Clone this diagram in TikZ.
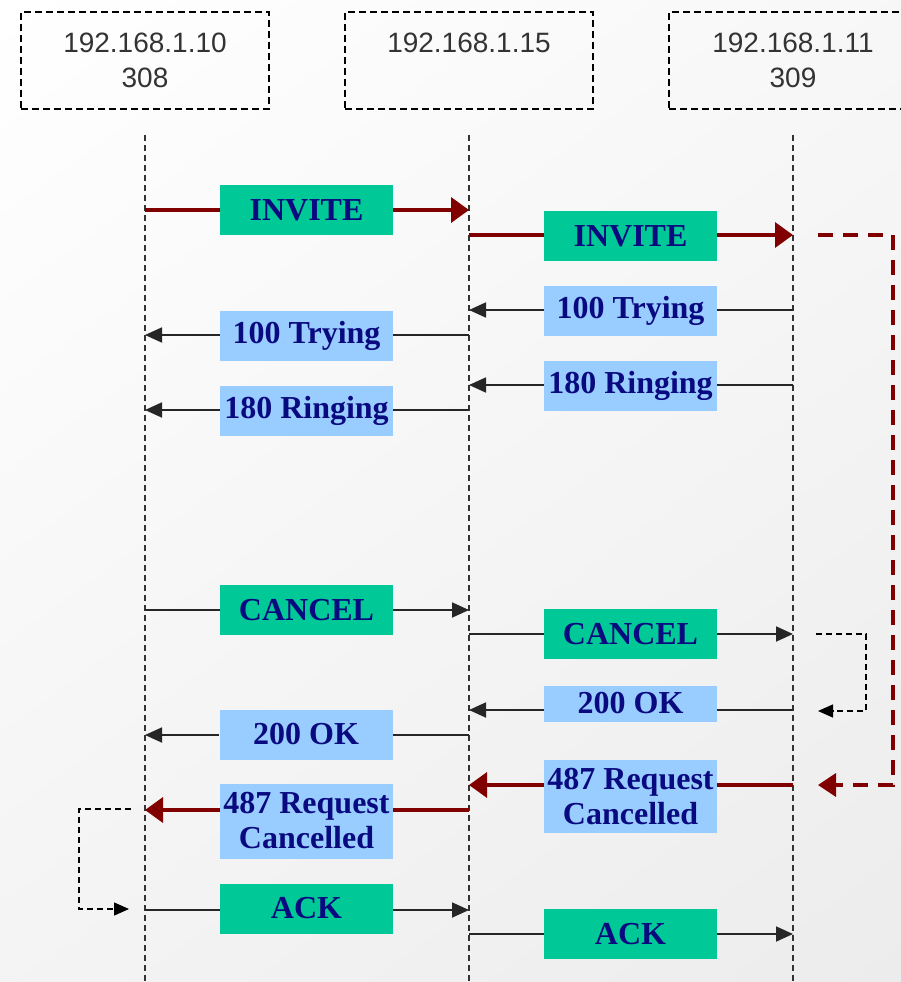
\documentclass[tikz,border=0pt]{standalone}
\usepackage{fontspec}
\setmainfont{Liberation Serif}
\newfontfamily\hdrfont{Liberation Sans}
\usetikzlibrary{arrows.meta,shadings}
\definecolor{msggreen}{RGB}{0,200,150}
\definecolor{msgblue}{RGB}{153,204,255}
\definecolor{msgtext}{RGB}{10,10,128}
\definecolor{sipred}{RGB}{128,0,0}
\definecolor{bgA}{RGB}{255,255,255}
\definecolor{bgB}{RGB}{236,236,236}
\begin{document}
\begin{tikzpicture}[x=1pt,y=-1pt,
  hdr/.style={draw=black, line width=1.2pt, dash pattern=on 7pt off 4pt,
    minimum width=248pt, minimum height=97pt, inner sep=0pt, align=center,
    font=\hdrfont\fontsize{28}{35}\selectfont, text=black!80},
  lifeline/.style={draw=black!80, line width=1.1pt, dash pattern=on 6pt off 4pt},
  lbl/.style={inner sep=0pt, minimum width=173pt, minimum height=50pt,
    font=\fontsize{32}{35}\selectfont\bfseries, text=msgtext, align=center},
  reqbox/.style={lbl, fill=msggreen},
  respbox/.style={lbl, fill=msgblue},
  blkline/.style={draw=black!85, line width=1.8pt},
  blkarrow/.style={blkline, -{Triangle[length=17pt,width=15pt]}},
  redline/.style={draw=sipred, line width=3.5pt},
  redarrow/.style={redline, -{Triangle[length=18pt,width=25pt]}},
  redloop/.style={draw=sipred, line width=3.5pt, dash pattern=on 15pt off 10pt,
    -{Triangle[length=18pt,width=23pt]}},
  blkloop/.style={draw=black, line width=1.2pt, dash pattern=on 6pt off 4pt,
    -{Triangle[length=15pt,width=13pt]}}
]
\useasboundingbox (0,0) rectangle (901,982);
\clip (0,0) rectangle (901,982);
\shade[upper left=bgA, upper right=bgA!60!bgB, lower left=bgA!40!bgB, lower right=bgB]
  (0,0) rectangle (901,982);

% header boxes
\node[hdr] (h1) at (145,60.5) {192.168.1.10\\308};
\node[hdr] (h2) at (469,60.5) {192.168.1.15\\\mbox{}};
\node[hdr] (h3) at (793,60.5) {192.168.1.11\\309};

% lifelines
\coordinate (t1) at (145,135); \coordinate (b1) at (145,982);
\coordinate (t2) at (469,135); \coordinate (b2) at (469,982);
\coordinate (t3) at (793,135); \coordinate (b3) at (793,982);
\draw[lifeline] (t1) -- (b1);
\draw[lifeline] (t2) -- (b2);
\draw[lifeline] (t3) -- (b3);

% label boxes
\node[reqbox]  (inv1) at (306.5,210) {INVITE};
\node[reqbox]  (inv2) at (630.5,236) {INVITE};
\node[respbox] (try2) at (630.5,310.5) {100 Trying};
\node[respbox] (try1) at (306.5,336) {100 Trying};
\node[respbox] (rng2) at (630.5,385.5) {180 Ringing};
\node[respbox] (rng1) at (306.5,410.5) {180 Ringing};
\node[reqbox]  (can1) at (306.5,610) {CANCEL};
\node[reqbox]  (can2) at (630.5,634) {CANCEL};
\node[respbox, minimum height=36pt] (ok2) at (630.5,703.5) {200 OK};
\node[respbox] (ok1) at (306,734.5) {200 OK};
\node[respbox, minimum height=73pt] (rc2) at (630.5,796.5) {487 Request\\Cancelled};
\node[respbox, minimum height=75pt] (rc1) at (306.5,821) {487 Request\\Cancelled};
\node[reqbox]  (ack1) at (306.5,908.5) {ACK};
\node[reqbox]  (ack2) at (630.5,934) {ACK};

% message end points
\coordinate (m1s) at (145,210); \coordinate (m1e) at (469,210);
\coordinate (m2s) at (469,235); \coordinate (m2e) at (793,235);
\coordinate (m3s) at (793,310); \coordinate (m3e) at (469,310);
\coordinate (m4s) at (469,335); \coordinate (m4e) at (145,335);
\coordinate (m5s) at (793,385); \coordinate (m5e) at (469,385);
\coordinate (m6s) at (469,410); \coordinate (m6e) at (145,410);
\coordinate (m7s) at (145,610); \coordinate (m7e) at (469,610);
\coordinate (m8s) at (469,634); \coordinate (m8e) at (793,634);
\coordinate (m9s) at (793,710); \coordinate (m9e) at (469,710);
\coordinate (m10s) at (469,735); \coordinate (m10e) at (145,735);
\coordinate (m11s) at (793,785); \coordinate (m11e) at (469,785);
\coordinate (m12s) at (469,810); \coordinate (m12e) at (145,810);
\coordinate (m13s) at (145,910); \coordinate (m13e) at (469,910);
\coordinate (m14s) at (469,934); \coordinate (m14e) at (793,934);

% INVITE
\draw[redline] (m1s) -- (m1s -| inv1.west);
\draw[redarrow] (m1e -| inv1.east) -- (m1e);
\draw[redline] (m2s) -- (m2s -| inv2.west);
\draw[redarrow] (m2e -| inv2.east) -- (m2e);
% 100 Trying
\draw[blkline] (m3s) -- (m3s -| try2.east);
\draw[blkarrow] (m3e -| try2.west) -- (m3e);
\draw[blkline] (m4s) -- (m4s -| try1.east);
\draw[blkarrow] (m4e -| try1.west) -- (m4e);
% 180 Ringing
\draw[blkline] (m5s) -- (m5s -| rng2.east);
\draw[blkarrow] (m5e -| rng2.west) -- (m5e);
\draw[blkline] (m6s) -- (m6s -| rng1.east);
\draw[blkarrow] (m6e -| rng1.west) -- (m6e);
% CANCEL
\draw[blkline] (m7s) -- (m7s -| can1.west);
\draw[blkarrow] (m7e -| can1.east) -- (m7e);
\draw[blkline] (m8s) -- (m8s -| can2.west);
\draw[blkarrow] (m8e -| can2.east) -- (m8e);
% 200 OK
\draw[blkline] (m9s) -- (m9s -| ok2.east);
\draw[blkarrow] (m9e -| ok2.west) -- (m9e);
\draw[blkline] (m10s) -- (m10s -| ok1.east);
\draw[blkarrow] (m10e -| ok1.west) -- (m10e);
% 487
\draw[redline] (m11s) -- (m11s -| rc2.east);
\draw[redarrow] (m11e -| rc2.west) -- (m11e);
\draw[redline] (m12s) -- (m12s -| rc1.east);
\draw[redarrow] (m12e -| rc1.west) -- (m12e);
% ACK
\draw[blkline] (m13s) -- (m13s -| ack1.west);
\draw[blkarrow] (m13e -| ack1.east) -- (m13e);
\draw[blkline] (m14s) -- (m14s -| ack2.west);
\draw[blkarrow] (m14e -| ack2.east) -- (m14e);

% dashed loops
\coordinate (rl1) at (818,235); \coordinate (rl2) at (818,785);
\draw[redloop] (rl1) -- ++(75,0) |- (rl2);
\coordinate (bl1) at (816,634); \coordinate (bl2) at (818,711);
\draw[blkloop] (bl1) -- ++(50,0) |- (bl2);
\coordinate (ll1) at (131,809); \coordinate (ll2) at (129,909);
\draw[blkloop] (ll1) -- ++(-52,0) |- (ll2);
\end{tikzpicture}
\end{document}
